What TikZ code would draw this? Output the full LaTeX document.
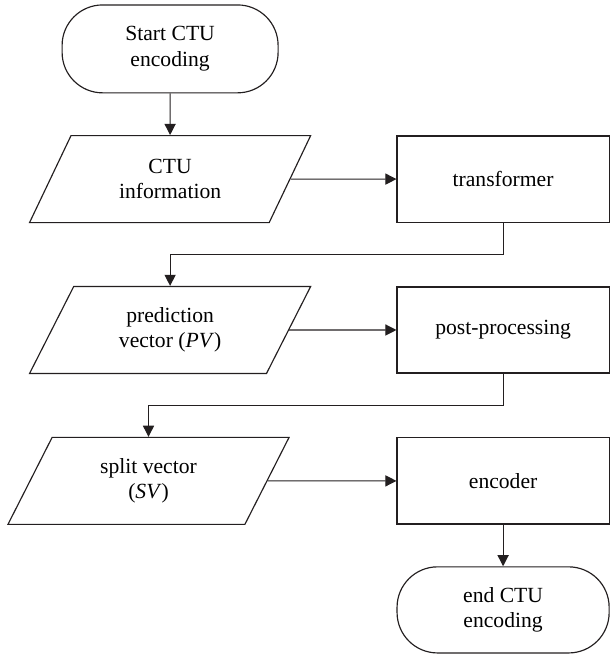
\documentclass[tikz,border=0pt]{standalone}
\usepackage{fontspec}
\setmainfont{Liberation Serif}
\usetikzlibrary{arrows.meta, shapes.geometric}
\definecolor{cline}{HTML}{231F20}
\tikzset{
  every picture/.style={line width=1.1pt},
  box/.style={draw=cline, rectangle, align=center, minimum width=7.07cm, minimum height=2.87cm, inner sep=0pt, font=\fontsize{20.5}{24.2}\selectfont},
  term/.style={box, rounded corners=1.35cm},
  io/.style={box, trapezium, trapezium left angle=62, trapezium right angle=118, trapezium stretches body, inner ysep=18pt, minimum width=9.37cm, minimum height=2.9cm},
  arrow/.style={-{Triangle[length=3.7mm, width=3.7mm]}, draw=cline, line width=1.1pt},
}
\begin{document}
\begin{tikzpicture}
  \useasboundingbox (0,0) rectangle (20.33,21.8);
  \node[term, minimum width=7.2cm, minimum height=2.93cm] (start) at (5.67,20.17) {Start CTU\\ encoding};
  % left column: data
  \node[io] (info) at (5.67,15.83) {CTU\\ information};
  \node[io] (pv) at (5.67,10.8) {prediction\\ vector (\textit{PV})};
  \node[io] (sv) at (4.95,5.77) {split vector\\ (\textit{SV})};
  % right column: processing
  \node[box] (trans) at (16.77,15.83) {transformer};
  \node[box] (post) at (16.77,10.8) {post-processing};
  \node[box] (enc) at (16.77,5.77) {encoder};
  \node[term] (stop) at (16.77,1.47) {end CTU\\ encoding};
  \draw[arrow] (start) -- (info);
  \foreach \a/\b in {info/trans,pv/post,sv/enc,enc/stop} \draw[arrow] (\a) -- (\b);
  \draw[arrow] (trans.south) -- ++(0,-1.07) -| (pv.north);
  \draw[arrow] (post.south) -- ++(0,-1.07) -| (sv.north);
\end{tikzpicture}
\end{document}
